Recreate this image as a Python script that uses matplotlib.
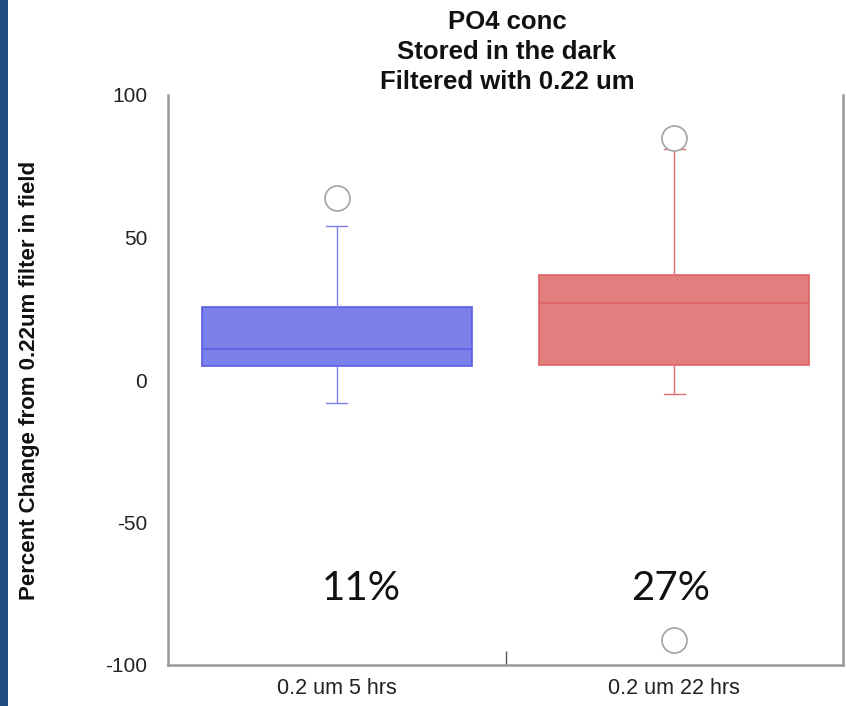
import matplotlib
matplotlib.use("Agg")
import matplotlib.pyplot as plt
from matplotlib.patches import Rectangle

# Group labels and box-plot summary statistics (percent change)
groups = ["0.2 um 5 hrs", "0.2 um 22 hrs"]
q1 = [4.9, 5.3]
median = [11, 27]
q3 = [25.7, 36.7]
whisker_low = [-8.1, -4.8]
whisker_high = [54.2, 81.0]
outliers = [[63.7], [85.0, -91.2]]
summary_labels = ["11%", "27%"]

y_ticks = [-100, -50, 0, 50, 100]
title_lines = ["PO4 conc", "Stored in the dark", "Filtered with 0.22 um"]

fill_colors = ["#7b7fe8", "#e07f7d"]
edge_colors = ["#5a5ee6", "#de6464"]
whisker_colors = ["#7c80f0", "#e07070"]

SANS = ["Liberation Sans", "DejaVu Sans"]

W, H = 846, 706
fig = plt.figure(figsize=(W / 100, H / 100), dpi=100)
ax = fig.add_axes([168 / W, 1 - 665 / H, 675 / W, 570 / H])

# Dark band along the left edge
fig.patches.append(Rectangle((0, 0), 8 / W, 1, transform=fig.transFigure,
                             facecolor="#1f4b7e", edgecolor="none"))

positions = [0.5, 1.5]
label_x = [0.572, 1.49]
for i in range(len(groups)):
    stats = [dict(med=median[i], q1=q1[i], q3=q3[i],
                  whislo=whisker_low[i], whishi=whisker_high[i],
                  fliers=outliers[i], label=groups[i])]
    ax.bxp(stats, positions=[positions[i]], widths=0.8, capwidths=0.062,
           patch_artist=True, showfliers=True,
           boxprops=dict(facecolor=fill_colors[i], edgecolor=edge_colors[i], linewidth=1.2),
           medianprops=dict(color=edge_colors[i], linewidth=1.2),
           whiskerprops=dict(color=whisker_colors[i], linewidth=1.0),
           capprops=dict(color=whisker_colors[i], linewidth=1.0),
           flierprops=dict(marker="o", markersize=18, markerfacecolor="white",
                           markeredgecolor="#a8a8a8", markeredgewidth=1.3))
    ax.text(label_x[i], -73, summary_labels[i], ha="center", va="center",
            fontsize=29, family="Lato", color="#111111")

ax.set_xlim(0, 2)
ax.set_ylim(-100, 100)
ax.set_yticks(y_ticks)
ax.set_yticklabels([str(v) for v in y_ticks], fontsize=15, color="#222222",
                   family=SANS)
ax.tick_params(axis="y", length=0, pad=15)

# Category labels under each box, divider tick between them
ax.set_xticks([1.0])
ax.set_xticklabels([""])
ax.tick_params(axis="x", direction="in", length=10, color="#555555", width=1)
for i, g in enumerate(groups):
    ax.text(positions[i], -104.5, g, ha="center", va="top", fontsize=15.5,
            color="#222222", family=SANS, transform=ax.transData)

for side in ["left", "bottom", "right"]:
    ax.spines[side].set_color("#999999")
    ax.spines[side].set_linewidth(1.8)
ax.spines["top"].set_visible(False)

for k, line in enumerate(title_lines):
    fig.text(507 / W, 1 - (29 + 30 * k) / H, line, ha="center", va="baseline",
             fontsize=18.5, fontweight="bold", family=SANS, color="#111111")

fig.text(30 / W, 1 - 380 / H, "Percent Change from 0.22um filter in field",
         rotation=90, ha="center", va="center", fontsize=16, fontweight="bold",
         family=SANS, color="#111111")

fig.savefig("out.png", dpi=100)
